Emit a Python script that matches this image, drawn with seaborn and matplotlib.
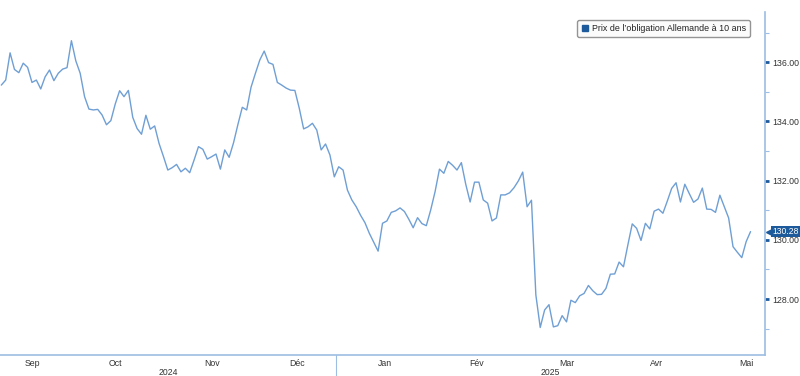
import matplotlib
matplotlib.use("Agg")
import matplotlib.pyplot as plt
import matplotlib.transforms as mtransforms
from matplotlib.lines import Line2D
from matplotlib.ticker import MultipleLocator, FixedLocator, NullFormatter
import seaborn as sns
import pandas as pd

# Prix de l'obligation allemande à 10 ans (cours de clôture, jours de bourse)
prix_sep_oct = [135.23, 135.40, 136.32, 135.76, 135.65, 135.97, 135.83, 135.32, 135.40, 135.10,
                135.51, 135.74, 135.38, 135.63, 135.77, 135.82, 136.73, 136.05, 135.63, 134.84,
                134.42, 134.39, 134.41, 134.22, 133.89, 134.03, 134.59, 135.04, 134.84, 135.05,
                134.14, 133.76, 133.57, 134.21, 133.74, 133.85, 133.26, 132.82, 132.36, 132.44,
                132.55, 132.30, 132.42, 132.27, 132.70, 133.15, 133.06]
prix_nov_dec = [132.73, 132.81, 132.90, 132.39, 133.04, 132.79, 133.28, 133.90, 134.48, 134.39,
                135.16, 135.63, 136.08, 136.38, 135.99, 135.93, 135.32, 135.23, 135.13, 135.06,
                135.05, 134.45, 133.75, 133.82, 133.94, 133.71, 133.04, 133.24, 132.87, 132.13,
                132.47, 132.36, 131.68, 131.35, 131.12, 130.83, 130.58, 130.22, 129.92, 129.62,
                130.56, 130.64, 130.93, 130.98]
prix_jan_mar = [131.08, 130.96, 130.70, 130.41, 130.75, 130.55, 130.48, 131.01, 131.63, 132.39,
                132.25, 132.65, 132.52, 132.36, 132.61, 131.88, 131.28, 131.95, 131.95, 131.35,
                131.24, 130.64, 130.74, 131.52, 131.52, 131.59, 131.76, 131.99, 132.29, 131.12,
                131.34, 128.14, 127.04, 127.63, 127.81, 127.06, 127.10, 127.44, 127.23, 127.96,
                127.88, 128.11, 128.19, 128.46]
prix_mar_mai = [128.28, 128.15, 128.16, 128.36, 128.84, 128.85, 129.25, 129.09, 129.83, 130.54,
                130.39, 129.98, 130.56, 130.37, 130.97, 131.04, 130.90, 131.31, 131.74, 131.93,
                131.28, 131.88, 131.57, 131.27, 131.38, 131.75, 131.04, 131.03, 130.93, 131.51,
                131.12, 130.74, 129.77, 129.58, 129.40, 129.94, 130.28]

# jours fériés Eurex sur la période
feries = ["2024-12-24", "2024-12-25", "2024-12-26", "2024-12-31", "2025-01-01",
          "2025-04-18", "2025-04-21", "2025-05-01"]
mois_fr = ["Sep", "Oct", "Nov", "Déc", "Jan", "Fév", "Mar", "Avr", "Mai"]
annees = ["2024", "2025"]
serie_nom = "Prix de l\u2019obligation Allemande à 10 ans"

prix = prix_sep_oct + prix_nov_dec + prix_jan_mar + prix_mar_mai
dates = pd.bdate_range("2024-09-10", "2025-05-19", freq="C", holidays=feries)
df = pd.DataFrame({"date": dates, "prix": prix})
df["i"] = range(len(df))

bleu_ligne = "#6f9fd4"
bleu_axe = "#9dbde3"
bleu_fonce = "#1d5a9c"
gris_txt = "#333333"
police = "Liberation Sans"

sns.set_style("white")
plt.rcParams["font.family"] = [police, "DejaVu Sans"]

fig = plt.figure(figsize=(8, 3.76), dpi=100)
ax = fig.add_axes([0.0, 21 / 376, 765 / 800, (355 - 12) / 376])

sns.lineplot(data=df, x="i", y="prix", ax=ax, color=bleu_ligne, linewidth=1.0)

xmin, xmax = -0.3, 174.3
ax.set_xlim(xmin, xmax)
ax.set_ylim(126.11, 137.70)
ax.set_xlabel("")
ax.set_ylabel("")

for s in ["top", "left"]:
    ax.spines[s].set_visible(False)
for s in ["bottom", "right"]:
    ax.spines[s].set_color(bleu_axe)
    ax.spines[s].set_linewidth(1.2)

# axe des prix à droite
ax.yaxis.tick_right()
ax.yaxis.set_major_locator(MultipleLocator(2))
ax.yaxis.set_minor_locator(MultipleLocator(1))
ax.yaxis.set_major_formatter(lambda v, p: f"{v:.2f}")
ax.tick_params(axis="y", which="major", direction="out", length=3, width=2,
               color=bleu_fonce, labelsize=6.3, labelcolor=gris_txt, pad=2)
ax.tick_params(axis="y", which="minor", direction="out", length=3, width=0.8, color=bleu_axe)

# frontières de mois (jour de bourse)
debut_mois = df.groupby(df["date"].dt.to_period("M"))["i"].min().tolist()
bornes = [b - 0.5 for b in debut_mois[1:]]
ax.xaxis.set_major_locator(FixedLocator(bornes))
ax.xaxis.set_major_formatter(NullFormatter())
ax.tick_params(axis="x", which="major", direction="in", length=2, width=1, color=bleu_axe)

trans = mtransforms.blended_transform_factory(ax.transData, ax.transAxes)
trans_fig = mtransforms.blended_transform_factory(ax.transData, fig.transFigure)
limites = [xmin] + bornes + [bornes[-1] + 21]
for k, nom in enumerate(mois_fr):
    xc = (limites[k] + limites[k + 1]) / 2
    ax.text(xc, -0.011, nom, transform=trans, ha="center", va="top",
            fontsize=6.3, color=gris_txt)

jan = bornes[3]
for xa, an in zip([(xmin + jan) / 2, (jan + xmax) / 2], annees):
    ax.text(xa, -0.002, an, transform=trans_fig, ha="center", va="bottom",
            fontsize=6.2, color=gris_txt)
ax.plot([jan, jan], [0, -0.062], transform=trans, color=bleu_axe, lw=0.8, clip_on=False)

# étiquette de la dernière valeur
dernier = prix[-1]
tr_y = mtransforms.blended_transform_factory(ax.transAxes, ax.transData)
ax.plot([1.005], [dernier], marker="<", markersize=5, color=bleu_fonce,
        transform=tr_y, clip_on=False)
ax.text(1.0095, dernier, f"{dernier:.2f}", transform=tr_y, ha="left", va="center",
        fontsize=6.2, color="white", zorder=5,
        bbox=dict(boxstyle="square,pad=0.15", fc=bleu_fonce, ec="none"))

# légende
handle = Line2D([], [], marker="s", linestyle="none", markersize=5,
                markerfacecolor=bleu_fonce, markeredgecolor=bleu_fonce)
leg = ax.legend([handle], [serie_nom], loc="upper right", bbox_to_anchor=(0.986, 0.99),
                fontsize=6.4, frameon=True, fancybox=True, handlelength=0.8,
                handletextpad=0.4, borderpad=0.45, labelcolor="#222222")
leg.get_frame().set_edgecolor("#7a7a7a")
leg.get_frame().set_linewidth(1.0)
leg.get_frame().set_facecolor("#fbfbfb")

fig.savefig("out.png", dpi=100)
